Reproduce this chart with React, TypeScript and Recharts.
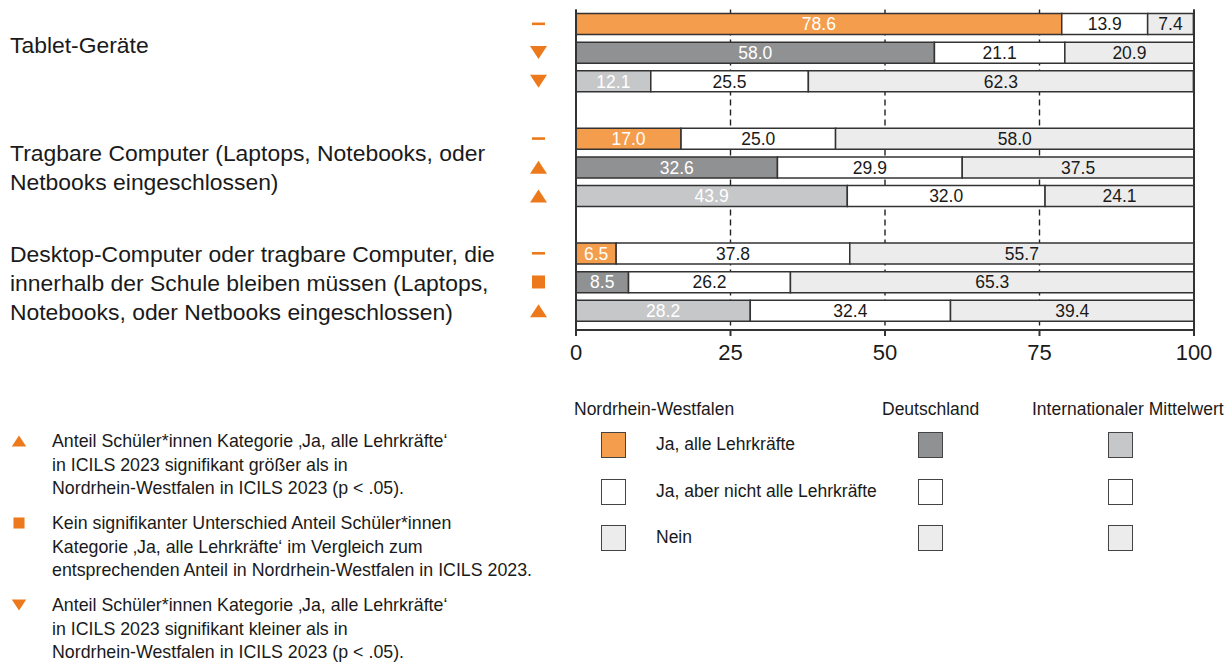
import { BarChart, Bar, XAxis, YAxis, CartesianGrid, Cell, LabelList } from 'recharts'

// row keys, gaps between the three device groups are empty rows
const rows = ['tab-nrw', 'tab-de', 'tab-int', 'gap1', 'lap-nrw', 'lap-de', 'lap-int', 'gap2', 'desk-nrw', 'desk-de', 'desk-int']
const jaAlle = [78.6, 58.0, 12.1, null, 17.0, 32.6, 43.9, null, 6.5, 8.5, 28.2]
const jaNichtAlle = [13.9, 21.1, 25.5, null, 25.0, 29.9, 32.0, null, 37.8, 26.2, 32.4]
const nein = [7.4, 20.9, 62.3, null, 58.0, 37.5, 24.1, null, 55.7, 65.3, 39.4]
const region = ['nrw', 'de', 'int', '', 'nrw', 'de', 'int', '', 'nrw', 'de', 'int']
const markers = ['dash', 'down', 'down', '', 'dash', 'up', 'up', '', 'dash', 'square', 'up']
const xTicks = [0, 25, 50, 75, 100]

const groupLabels: Record<string, { lines: string[]; dy: number }> = {
  'tab-de': { lines: ['Tablet-Geräte'], dy: -8 },
  'lap-de': { lines: ['Tragbare Computer (Laptops, Notebooks, oder', 'Netbooks eingeschlossen)'], dy: 0 },
  'desk-de': {
    lines: [
      'Desktop-Computer oder tragbare Computer, die',
      'innerhalb der Schule bleiben müssen (Laptops,',
      'Notebooks, oder Netbooks eingeschlossen)',
    ],
    dy: 1,
  },
}

const legendCols = ['Nordrhein-Westfalen', 'Deutschland', 'Internationaler Mittelwert']
const legendRows = ['Ja, alle Lehrkräfte', 'Ja, aber nicht alle Lehrkräfte', 'Nein']

const notes = [
  {
    marker: 'up',
    lines: ['Anteil Schüler*innen Kategorie ‚Ja, alle Lehrkräfte‘', 'in ICILS 2023 signifikant größer als in', 'Nordrhein-Westfalen in ICILS 2023 (p < .05).'],
  },
  {
    marker: 'square',
    lines: ['Kein signifikanter Unterschied Anteil Schüler*innen', 'Kategorie ‚Ja, alle Lehrkräfte‘ im Vergleich zum', 'entsprechenden Anteil in Nordrhein-Westfalen in ICILS 2023.'],
  },
  {
    marker: 'down',
    lines: ['Anteil Schüler*innen Kategorie ‚Ja, alle Lehrkräfte‘', 'in ICILS 2023 signifikant kleiner als in', 'Nordrhein-Westfalen in ICILS 2023 (p < .05).'],
  },
]

const ORANGE = '#f49d4c'
const MARK = '#ec7a1c'
const regionFill: Record<string, string> = { nrw: ORANGE, de: '#909192', int: '#c6c7c8' }
const NEIN = '#ececec'
const EDGE = '#333'
const FONT = '"Liberation Sans", Arial, sans-serif'

const data = rows.map((r, i) => ({
  row: r,
  jaAlle: jaAlle[i],
  jaNichtAlle: jaNichtAlle[i],
  nein: nein[i],
}))

function Marker({ kind, cx, cy, s = 1 }: { kind: string; cx: number; cy: number; s?: number }) {
  if (kind === 'dash') return <rect x={cx - 6.5 * s} y={cy - 1.3} width={13 * s} height={2.6} fill={MARK} />
  if (kind === 'square') return <rect x={cx - 6.5 * s} y={cy - 6.5 * s} width={13 * s} height={13 * s} fill={MARK} />
  if (kind === 'up')
    return <polygon points={`${cx - 8.5 * s},${cy + 6.5 * s} ${cx + 8.5 * s},${cy + 6.5 * s} ${cx},${cy - 6.5 * s}`} fill={MARK} />
  if (kind === 'down')
    return <polygon points={`${cx - 8.5 * s},${cy - 6.5 * s} ${cx + 8.5 * s},${cy - 6.5 * s} ${cx},${cy + 6.5 * s}`} fill={MARK} />
  return null
}

function RowTick(props: any) {
  const { y, payload } = props
  const i = rows.indexOf(payload.value)
  const g = groupLabels[payload.value]
  const lh = 29
  return (
    <g>
      <Marker kind={markers[i]} cx={538.5} cy={y} />
      {g && (
        <text x={10} fontSize={22.9} fill="#1a1a1a" fontFamily={FONT}>
          {g.lines.map((l, k) => (
            <tspan key={k} x={10} y={y + g.dy + (k - (g.lines.length - 1) / 2) * lh + 8}>
              {l}
            </tspan>
          ))}
        </text>
      )}
    </g>
  )
}

const fmt = (v: any) => (v == null ? '' : Number(v).toFixed(1))

function NoteMarker({ kind }: { kind: string }) {
  return (
    <svg width={20} height={16} style={{ position: 'absolute', left: 9, top: 3 }}>
      <Marker kind={kind} cx={10} cy={8} s={0.85} />
    </svg>
  )
}

const box = (fill: string): React.CSSProperties => ({
  position: 'absolute',
  width: 25,
  height: 26,
  background: fill,
  border: '1.5px solid #444',
  boxSizing: 'border-box',
})

export default function App() {
  const colX = [601, 918, 1108]
  const headX = [574, 882, 1032]
  const rowY = [432, 479, 525]
  const fills = [
    [ORANGE, '#fff', NEIN],
    ['#909192', '#fff', NEIN],
    ['#c6c7c8', '#fff', NEIN],
  ]
  return (
    <div style={{ position: 'absolute', left: 0, top: 0, width: 1232, height: 671, background: '#fff', fontFamily: FONT, color: '#1a1a1a' }}>
      <BarChart
        width={1232}
        height={380}
        data={data}
        layout="vertical"
        barSize={21}
        margin={{ top: 9.5, right: 0, bottom: 10, left: 0 }}
      >
        <CartesianGrid horizontal={false} stroke="#222" strokeWidth={1.4} strokeDasharray="6 4" />
        <XAxis
          type="number"
          domain={[0, 100]}
          ticks={xTicks}
          height={40}
          axisLine={{ stroke: EDGE, strokeWidth: 2 }}
          tickLine={{ stroke: EDGE, strokeWidth: 2 }}
          tickSize={6}
          tickMargin={8}
          tick={{ fontSize: 22, fill: '#1a1a1a', fontFamily: FONT }}
        />
        <YAxis
          type="category"
          dataKey="row"
          width={576}
          padding={{ top: 0, bottom: 5 }}
          axisLine={{ stroke: EDGE, strokeWidth: 2 }}
          tickLine={false}
          interval={0}
          tick={<RowTick />}
        />
        <YAxis
          yAxisId="r"
          type="category"
          dataKey="row"
          orientation="right"
          width={38}
          padding={{ top: 0, bottom: 5 }}
          axisLine={{ stroke: EDGE, strokeWidth: 2 }}
          tickLine={false}
          tick={false}
        />
        <Bar dataKey="jaAlle" stackId="a" stroke={EDGE} strokeWidth={1.5} isAnimationActive={false}>
          {data.map((_, i) => (
            <Cell key={i} fill={regionFill[region[i]] || '#fff'} />
          ))}
          <LabelList dataKey="jaAlle" position="center" formatter={fmt} fill="#fff" fontSize={17.5} fontFamily={FONT} />
        </Bar>
        <Bar dataKey="jaNichtAlle" stackId="a" fill="#fff" stroke={EDGE} strokeWidth={1.5} isAnimationActive={false}>
          <LabelList dataKey="jaNichtAlle" position="center" formatter={fmt} fill="#1a1a1a" fontSize={17.5} fontFamily={FONT} />
        </Bar>
        <Bar dataKey="nein" stackId="a" fill={NEIN} stroke={EDGE} strokeWidth={1.5} isAnimationActive={false}>
          <LabelList dataKey="nein" position="center" formatter={fmt} fill="#1a1a1a" fontSize={17.5} fontFamily={FONT} />
        </Bar>
      </BarChart>

      {/* significance notes */}
      {notes.map((n, k) => (
        <div key={k} style={{ position: 'absolute', left: 0, top: 430 + k * 82, width: 620 }}>
          <NoteMarker kind={n.marker} />
          <div style={{ marginLeft: 52, fontSize: 17.8, lineHeight: '23.5px' }}>
            {n.lines.map((l, j) => (
              <div key={j}>{l}</div>
            ))}
          </div>
        </div>
      ))}

      {/* legend */}
      {legendCols.map((c, k) => (
        <div key={c} style={{ position: 'absolute', left: headX[k], top: 399, fontSize: 17.5 }}>
          {c}
        </div>
      ))}
      {legendRows.map((r, j) => (
        <div key={r}>
          {colX.map((x, k) => (
            <div key={k} style={{ ...box(fills[k][j]), left: x, top: rowY[j] }} />
          ))}
          <div style={{ position: 'absolute', left: 656, top: rowY[j] + 2, fontSize: 17.5 }}>{r}</div>
        </div>
      ))}
    </div>
  )
}
